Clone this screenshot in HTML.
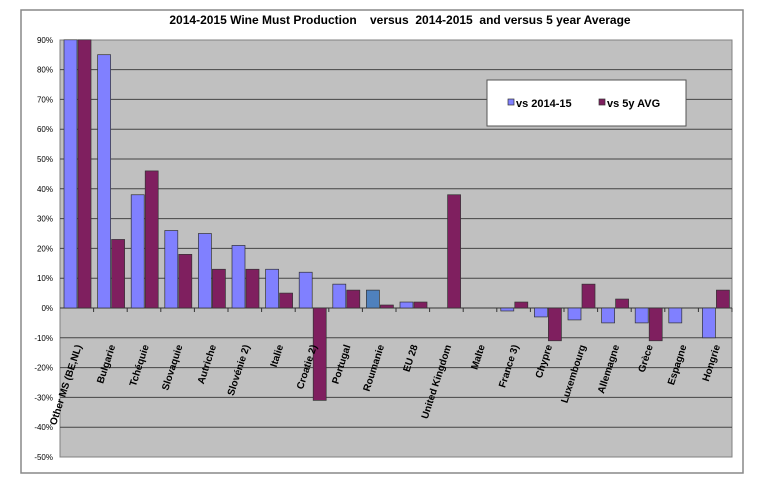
<!DOCTYPE html>
<html><head><meta charset="utf-8"><style>body{margin:0;background:#fff}svg{display:block}</style></head>
<body>
<svg width="770" height="490" xmlns="http://www.w3.org/2000/svg" font-family="Liberation Sans, Arial, sans-serif">
<rect x="0" y="0" width="770" height="490" fill="#fff"/>
<rect x="21" y="10" width="722" height="463" fill="#fff" stroke="#888" stroke-width="1.5"/>
<text x="400" y="24" text-anchor="middle" font-size="12" font-weight="bold" style="white-space:pre">2014-2015 Wine Must Production&#160;&#160;&#160; versus&#160; 2014-2015&#160; and versus 5 year Average</text>
<rect x="60" y="40" width="672" height="417" fill="#c0c0c0" stroke="#808080"/>
<g id="grid" stroke="#444" stroke-width="1"></g>
<g id="yl" font-size="8" text-anchor="end"></g>
<g id="bars"></g>
<g id="xl" font-size="10" font-weight="bold"></g>
<rect x="487" y="80" width="199" height="46" fill="#fff" stroke="#555"/>
<rect x="508" y="99" width="6" height="6" fill="#8080ff" stroke="#333" stroke-width="0.7"/>
<text x="516" y="107" font-size="11" font-weight="bold">vs 2014-15</text>
<rect x="599" y="99" width="6" height="6" fill="#7f1f5f" stroke="#333" stroke-width="0.7"/>
<text x="607" y="107" font-size="11" font-weight="bold">vs 5y AVG</text>
<script>
var ns="http://www.w3.org/2000/svg";
function el(t,a,p,txt){var e=document.createElementNS(ns,t);for(var k in a)e.setAttribute(k,a[k]);if(txt)e.textContent=txt;document.getElementById(p).appendChild(e);return e;}
function Y(v){return 308-v*2.98;}
for(var v=90;v>=-50;v-=10){var y=Y(v);if(v!=90&&v!=-50)el("line",{x1:60,x2:732,y1:y,y2:y},"grid");el("text",{x:53,y:y+3},"yl",v+"%");}
var cats=["Other MS (BE,NL)","Bulgarie","Tchéquie","Slovaquie","Autriche","Slovénie 2)","Italie","Croatie 2)","Portugal","Roumanie","EU 28","United Kingdom","Malte","France 3)","Chypre","Luxembourg","Allemagne","Grèce","Espagne","Hongrie"];
var b=[90,85,38,26,25,21,13,12,8,6,2,0,0,-1,-3,-4,-5,-5,-5,-10];
var p=[90,23,46,18,13,13,5,-31,6,1,2,38,0,2,-11,8,3,-11,0,6];
var w=33.6;
el("line",{x1:60,x2:732,y1:308,y2:308,stroke:"#333"},"grid");
for(var i=0;i<20;i++){var x0=60+i*w;
 el("line",{x1:x0+w,x2:x0+w,y1:308,y2:312,stroke:"#333"},"grid");
 if(b[i]!=0){var y1=Y(Math.max(b[i],0)),y2=Y(Math.min(b[i],0));el("rect",{x:x0+4,y:y1,width:13,height:y2-y1,fill:i==9?"#4f81bd":"#8080ff",stroke:"#333","stroke-width":0.7},"bars");}
 if(p[i]!=0){var y1=Y(Math.max(p[i],0)),y2=Y(Math.min(p[i],0));el("rect",{x:x0+18,y:y1,width:13,height:y2-y1,fill:"#7f1f5f",stroke:"#333","stroke-width":0.7},"bars");}
 var cx=x0+w/2+5;
 el("text",{x:cx,y:346,"text-anchor":"end",transform:"rotate(-72 "+cx+" 346)"},"xl",cats[i]);
}
</script>
</svg>
</body></html>
